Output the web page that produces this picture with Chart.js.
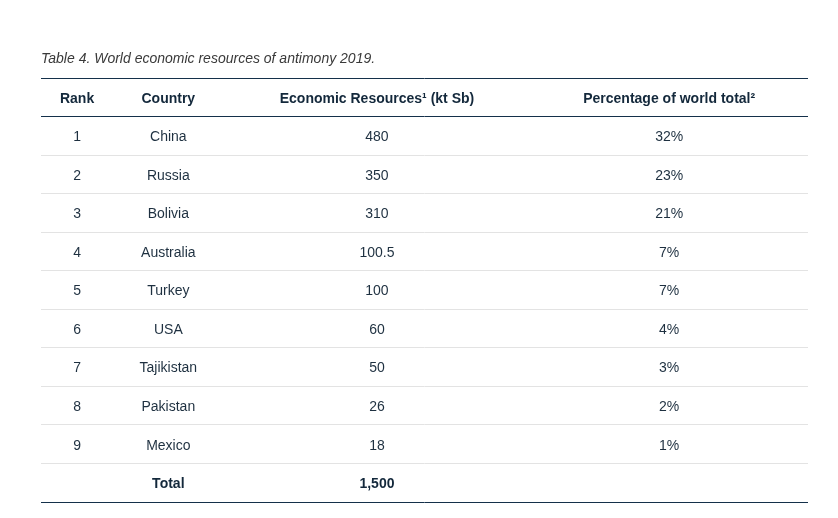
<!DOCTYPE html>
<html lang="en">
<head>
    <meta charset="UTF-8">
    <title>World economic resources of antimony 2019</title>
    <script src="https://cdn.jsdelivr.net/npm/chart.js@4.4.0/dist/chart.umd.min.js"></script>
    <style>
        html, body { margin: 0; padding: 0; background: #ffffff; }
        canvas { display: block; }
    </style>
</head>
<body>
    <canvas id="myChart" width="838" height="518"></canvas>

    <script>
        // table data
        var headers = ['Rank', 'Country', 'Economic Resources\u00b9 (kt Sb)', 'Percentage of world total\u00b2'];
        var ranks = ['1', '2', '3', '4', '5', '6', '7', '8', '9'];
        var countries = ['China', 'Russia', 'Bolivia', 'Australia', 'Turkey', 'USA', 'Tajikistan', 'Pakistan', 'Mexico'];
        var resources = [480, 350, 310, 100.5, 100, 60, 50, 26, 18];
        var shares = [32, 23, 21, 7, 7, 4, 3, 2, 1];
        var totalLabel = 'Total';
        var totalResources = 1500;

        // rows of the y scale: header, one per country, total
        var rowKeys = ['head'].concat(ranks).concat(['total']);

        // column centres, as percent of table width
        var columnPos = [4.7, 16.6, 43.8, 81.9];

        var darkLine = '#14304a';
        var lightLine = '#e3e3e3';
        var bodyColor = '#1e3040';
        var headColor = '#13283b';

        function makeColumn(col, bodyTexts, totalText) {
            var points = [{ x: columnPos[col], y: 'head' }];
            var texts = [headers[col]];
            var bold = [true];
            bodyTexts.forEach(function (t, i) {
                points.push({ x: columnPos[col], y: ranks[i] });
                texts.push(t);
                bold.push(false);
            });
            if (totalText !== '') {
                points.push({ x: columnPos[col], y: 'total' });
                texts.push(totalText);
                bold.push(true);
            }
            return {
                data: points,
                cellText: texts,
                cellBold: bold,
                pointRadius: 0,
                pointHoverRadius: 0,
                showLine: false
            };
        }

        var datasets = [
            makeColumn(0, ranks, ''),
            makeColumn(1, countries, totalLabel),
            makeColumn(2, resources.map(function (v) { return String(v); }), totalResources.toLocaleString('en-US')),
            makeColumn(3, shares.map(function (v) { return v + '%'; }), '')
        ];

        var cellTextPlugin = {
            id: 'cellText',
            afterDatasetsDraw: function (chart) {
                var ctx = chart.ctx;
                ctx.save();
                ctx.textAlign = 'center';
                ctx.textBaseline = 'middle';
                chart.data.datasets.forEach(function (ds, di) {
                    var meta = chart.getDatasetMeta(di);
                    meta.data.forEach(function (el, i) {
                        ctx.font = (ds.cellBold[i] ? 'bold ' : '') + '14px "Liberation Sans", Arial, sans-serif';
                        ctx.fillStyle = ds.cellBold[i] ? headColor : bodyColor;
                        ctx.fillText(ds.cellText[i], el.x, el.y + 1.5);
                    });
                });
                ctx.restore();
            }
        };

        new Chart(document.getElementById('myChart'), {
            type: 'scatter',
            data: { datasets: datasets },
            plugins: [cellTextPlugin],
            options: {
                responsive: false,
                animation: false,
                events: [],
                layout: { padding: { left: 41, right: 30, top: 51, bottom: 16 } },
                plugins: {
                    legend: { display: false },
                    tooltip: { enabled: false },
                    title: {
                        display: true,
                        text: 'Table 4. World economic resources of antimony 2019.',
                        align: 'start',
                        color: '#3a3a3a',
                        font: { family: '"Liberation Sans", Arial, sans-serif', size: 14, style: 'italic', weight: 'normal' },
                        padding: { top: 0, bottom: 10.2 }
                    }
                },
                scales: {
                    x: { type: 'linear', min: 0, max: 100, display: false },
                    y: {
                        type: 'category',
                        labels: rowKeys,
                        offset: true,
                        border: { display: false },
                        ticks: { display: false },
                        grid: {
                            offset: true,
                            drawTicks: false,
                            lineWidth: 1,
                            color: function (c) {
                                if (c.index === undefined || c.index === 0 || c.index === 1) return darkLine;
                                return lightLine;
                            }
                        }
                    }
                }
            }
        });
    </script>
</body>
</html>
